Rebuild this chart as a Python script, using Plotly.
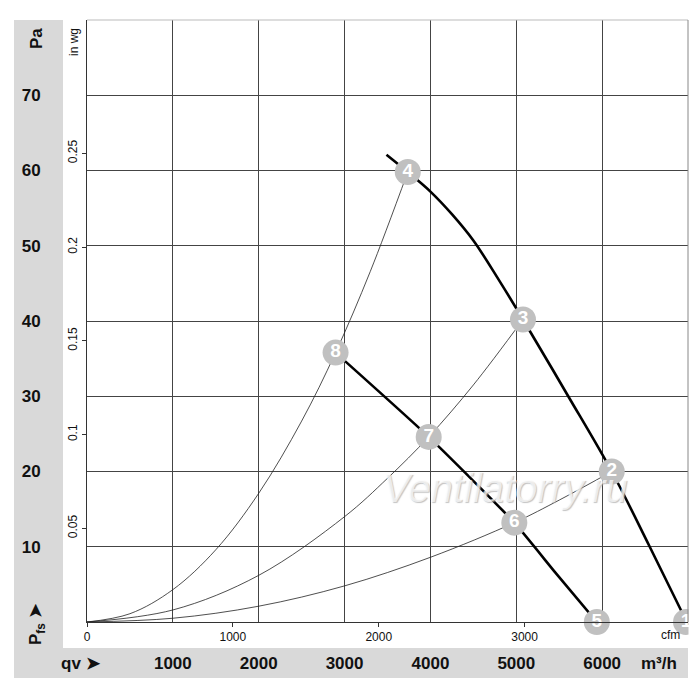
import plotly.graph_objects as go

# fan curve (m3/h, Pa)
fan_q = [3488, 3736, 4000, 4250, 4500, 4800, 5078, 5600, 6112, 6550, 6960]
fan_p = [62.1, 59.8, 57.2, 54.2, 50.7, 45.4, 40.2, 30.1, 20.0, 10.1, 0.6]

# lower speed curve 8-7-6-5
low_q = [2895, 3980, 4977, 5453, 5938]
low_p = [35.8, 24.6, 13.2, 6.6, 0.0]

# system curves from the origin
sys1_q = [0, 500, 1000, 1500, 2000, 2500, 2895, 3300, 3736]
sys1_p = [0, 1.1, 4.3, 9.6, 17.1, 26.7, 35.8, 46.6, 59.8]
sys2_q = [0, 1000, 2000, 3000, 3500, 3980, 4500, 5078]
sys2_p = [0, 1.6, 6.2, 14.0, 19.1, 24.6, 31.5, 40.2]
sys3_q = [0, 1000, 2000, 3000, 4000, 4977, 5500, 6112]
sys3_p = [0, 0.5, 2.1, 4.8, 8.6, 13.2, 16.2, 20.0]

# operating points
pt_names = ['1', '2', '3', '4', '5', '6', '7', '8']
pt_q = [6977, 6112, 5078, 3736, 5938, 4977, 3980, 2895]
pt_p = [0, 20.0, 40.2, 59.8, 0, 13.2, 24.6, 35.8]

# axis ticks
pa_ticks = [10, 20, 30, 40, 50, 60, 70]
m3h_ticks = [1000, 2000, 3000, 4000, 5000, 6000]
cfm_ticks = [0, 1000, 2000, 3000]
inwg_ticks = [0.05, 0.1, 0.15, 0.2, 0.25]

# the page puts the figure 8px in from the top left corner
OFF = 8
W, H = 700 - OFF, 700 - OFF
L, R, T, B = 87 - OFF, 12, 20 - OFF, 78
PW, PH = W - L - R, H - T - B
FONT = 'Liberation Sans, Arial, sans-serif'


def px(x, y):
    # page pixel position -> paper coordinates
    return (x - OFF - L) / PW, (H - B - (y - OFF)) / PH


fig = go.Figure()

thin = dict(color='#222', width=0.8, shape='spline')
for q, p in [(sys1_q, sys1_p), (sys2_q, sys2_p), (sys3_q, sys3_p)]:
    fig.add_trace(go.Scatter(x=q, y=p, mode='lines', line=thin, hoverinfo='skip'))

fig.add_trace(go.Scatter(x=fan_q, y=fan_p, mode='lines',
                         line=dict(color='black', width=2.6, shape='spline', smoothing=1.0)))
fig.add_trace(go.Scatter(x=low_q, y=low_p, mode='lines',
                         line=dict(color='black', width=2.6, shape='spline', smoothing=0.5)))

fig.add_trace(go.Scatter(
    x=pt_q, y=pt_p, mode='markers+text', text=pt_names,
    textposition='middle center', cliponaxis=False,
    marker=dict(size=26, color='#c0c0c0'),
    textfont=dict(family=FONT, size=19, color='white', weight='bold')
))

# dummy trace for the secondary (cfm / in wg) axes
fig.add_trace(go.Scatter(x=[0], y=[0], xaxis='x2', yaxis='y2', mode='markers',
                         marker=dict(size=1, opacity=0), hoverinfo='skip'))

fig.update_layout(
    width=W, height=H,
    margin=dict(l=L, r=R, t=T, b=B),
    paper_bgcolor='white', plot_bgcolor='white',
    showlegend=False,
    font=dict(family=FONT, color='#111'),
    xaxis=dict(
        range=[0, 7000], tickvals=m3h_ticks, ticks='', automargin=False,
        showgrid=True, gridcolor='#444', gridwidth=1,
        zeroline=False, showline=True, linecolor='#333', linewidth=1,
        tickfont=dict(size=17, weight='bold', color='#111'),
        ticklabelstandoff=26
    ),
    xaxis2=dict(
        range=[0, 7000 / 1.699], overlaying='x', anchor='y', side='bottom',
        tickvals=cfm_ticks, ticks='outside', ticklen=4, tickcolor='#333',
        showgrid=False, zeroline=False, showline=False, automargin=False,
        tickfont=dict(size=12, color='#111')
    ),
    yaxis=dict(
        range=[0, 80], tickvals=pa_ticks, ticks='', automargin=False,
        showgrid=True, gridcolor='#444', gridwidth=1,
        zeroline=False, showline=True, linecolor='#333', linewidth=1,
        tickfont=dict(size=17, weight='bold', color='#111'),
        ticklabelstandoff=42
    ),
    yaxis2=dict(
        range=[0, 80 / 249.089], overlaying='y', anchor='x', side='left',
        tickvals=inwg_ticks, tickangle=-90, ticks='outside', ticklen=4,
        tickcolor='#333', showgrid=False, zeroline=False, showline=False,
        automargin=False, tickfont=dict(size=12, color='#111')
    ),
)

# grey bands
x0, y0 = px(14, 678)
x1, y1 = px(63, 20)
fig.add_shape(type='rect', xref='paper', yref='paper', x0=x0, x1=x1, y0=y0, y1=y1,
              fillcolor='#d9d9d9', line_width=0, layer='below')
x1b, y1b = px(688, 648)
fig.add_shape(type='rect', xref='paper', yref='paper', x0=x0, x1=x1b, y0=y0, y1=y1b,
              fillcolor='#d9d9d9', line_width=0, layer='below')

# cut point 1 at the right edge of the grid
cx0, cy0 = px(688.5, 645)
cx1, cy1 = px(700, 600)
fig.add_shape(type='rect', xref='paper', yref='paper', x0=cx0, x1=cx1, y0=cy0, y1=cy1,
              fillcolor='white', line_width=0, layer='above')

# top and right frame
fig.add_shape(type='line', xref='paper', yref='paper', x0=0, x1=1, y0=1, y1=1,
              line=dict(color='#bbb', width=1))
fig.add_shape(type='line', xref='paper', yref='paper', x0=1, x1=1, y0=0, y1=1,
              line=dict(color='#888', width=1))


def label(text, x, y, size, bold=False, angle=0, **kw):
    ax, ay = px(x, y)
    fig.add_annotation(text=text, x=ax, y=ay, xref='paper', yref='paper',
                       showarrow=False, textangle=angle,
                       xanchor='center', yanchor='middle',
                       font=dict(size=size, weight='bold' if bold else 'normal',
                                 color=kw.pop('color', '#111'), **kw))


label('Pa', 36, 39, 17, bold=True, angle=-90)
label('in wg', 74, 42, 12, angle=-90)
label('P<sub>fs</sub> ➤', 37, 624, 17, bold=True, angle=-90)
label('qv ➤', 81, 663, 17, bold=True)
label('m³/h', 659, 663, 17, bold=True)
label('cfm', 670, 635, 12)
label('Ventilatorry.ru', 505, 488, 40, color='rgba(255,255,255,0.7)',
      style='italic', shadow='1px 1px 1px #aaa')

fig.write_html('out.html')
